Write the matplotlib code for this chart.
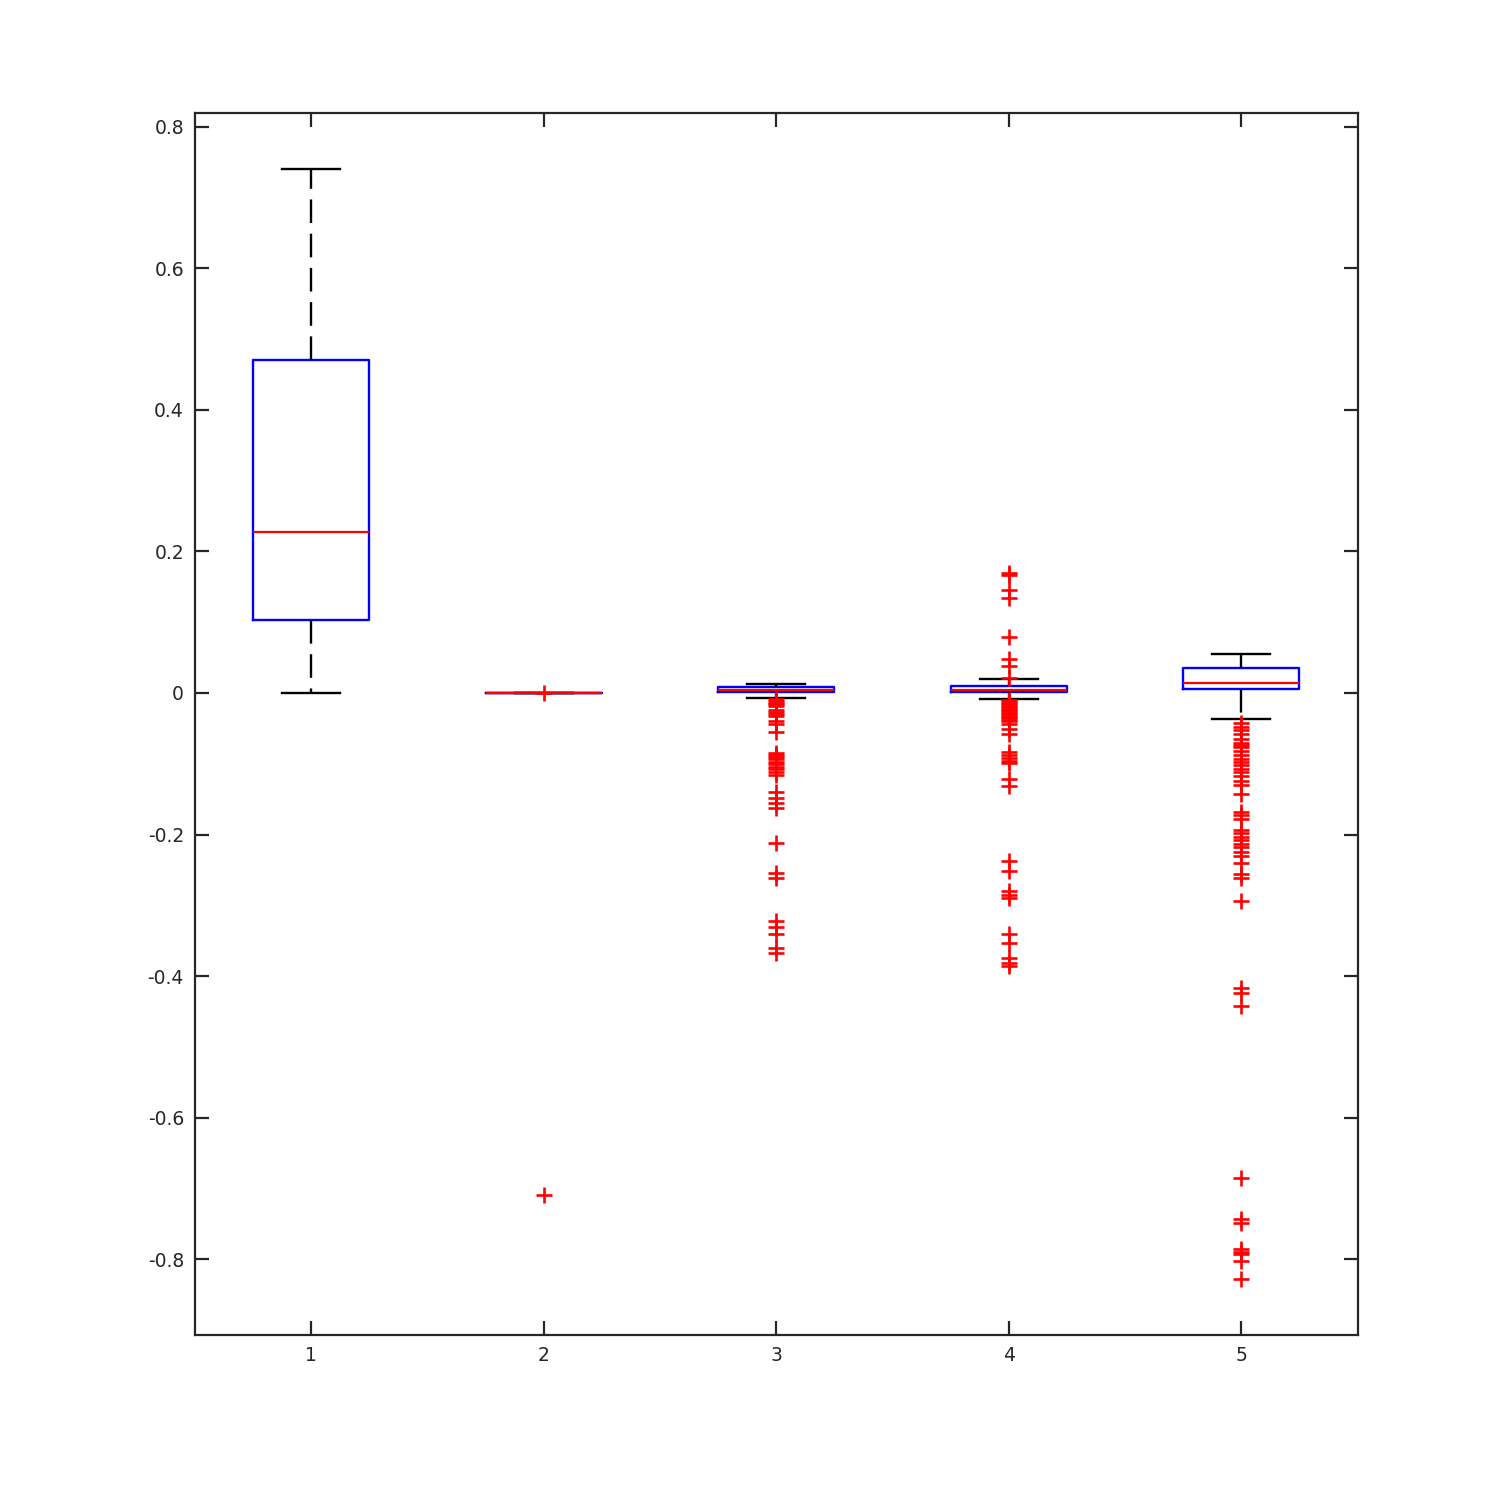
import matplotlib
matplotlib.use("Agg")
import matplotlib.pyplot as plt

# box statistics (MATLAB style boxplot)
labels = ["1", "2", "3", "4", "5"]
medians = [0.2276, 0.0, 0.004, 0.004, 0.014]
q1s = [0.1032, 0.0, 0.0015, 0.0015, 0.0057]
q3s = [0.4707, 0.0, 0.0085, 0.010, 0.035]
whis_lo = [0.0, 0.0, -0.007, -0.0085, -0.037]
whis_hi = [0.7406, 0.0, 0.0127, 0.0198, 0.055]

fliers_1 = []
fliers_2 = [0.0, -0.7095]
fliers_3 = [-0.008, -0.011, -0.014, -0.016, -0.019, -0.024, -0.027, -0.030,
            -0.033, -0.040, -0.044, -0.055, -0.085, -0.088, -0.091, -0.094,
            -0.098, -0.101, -0.105, -0.108, -0.112, -0.116, -0.140, -0.148,
            -0.156, -0.162, -0.212, -0.255, -0.262, -0.322, -0.330, -0.340,
            -0.360, -0.368]
fliers_4 = [0.170, 0.167, 0.146, 0.134, 0.079, 0.048, 0.038, 0.021,
            -0.010, -0.012, -0.014, -0.016, -0.018, -0.020, -0.022, -0.024,
            -0.026, -0.028, -0.030, -0.032, -0.034, -0.036, -0.038, -0.040,
            -0.044, -0.051, -0.058, -0.084, -0.088, -0.092, -0.096, -0.099,
            -0.122, -0.131, -0.237, -0.252, -0.280, -0.285, -0.290, -0.341,
            -0.353, -0.375, -0.381, -0.386]
fliers_5 = [-0.042, -0.048, -0.053, -0.058, -0.065, -0.070, -0.073, -0.076,
            -0.082, -0.088, -0.094, -0.098, -0.102, -0.107, -0.112, -0.118,
            -0.124, -0.130, -0.143, -0.168, -0.172, -0.178, -0.194, -0.198,
            -0.203, -0.208, -0.213, -0.218, -0.224, -0.230, -0.240, -0.256,
            -0.262, -0.294, -0.417, -0.424, -0.442, -0.685, -0.743, -0.749,
            -0.786, -0.790, -0.793, -0.803, -0.828]
fliers = [fliers_1, fliers_2, fliers_3, fliers_4, fliers_5]

stats = []
for i in range(len(labels)):
    stats.append(dict(label=labels[i], med=medians[i], q1=q1s[i], q3=q3s[i],
                      whislo=whis_lo[i], whishi=whis_hi[i], fliers=fliers[i]))

fig = plt.figure(figsize=(15, 15), dpi=100)
ax = fig.add_axes([0.13, 0.11, 0.775, 0.815])

ax.bxp(stats, positions=[1, 2, 3, 4, 5], widths=0.5,
       boxprops=dict(color="#0000ff", linewidth=1.7),
       medianprops=dict(color="#ff0000", linewidth=1.6),
       whiskerprops=dict(color="black", linewidth=1.7, linestyle=(0, (10, 4.5))),
       capprops=dict(color="black", linewidth=1.7),
       capwidths=0.25,
       flierprops=dict(marker="+", markeredgecolor="#ff0000", markersize=11,
                       markeredgewidth=1.9, linestyle="none"))

ax.set_xlim(0.5, 5.5)
ax.set_ylim(-0.907, 0.82)
ax.set_yticks([-0.8, -0.6, -0.4, -0.2, 0, 0.2, 0.4, 0.6, 0.8])
ax.set_yticklabels(["-0.8", "-0.6", "-0.4", "-0.2", "0", "0.2", "0.4", "0.6", "0.8"])
ax.set_xticks([1, 2, 3, 4, 5])
ax.set_xticklabels(labels)

dark = "#262626"
for s in ax.spines.values():
    s.set_color(dark)
    s.set_linewidth(1.6)
ax.tick_params(direction="in", length=10, width=1.6, color=dark,
               labelcolor=dark, labelsize=13.5, top=True, right=True, pad=8)

fig.savefig("out.png", dpi=100)
